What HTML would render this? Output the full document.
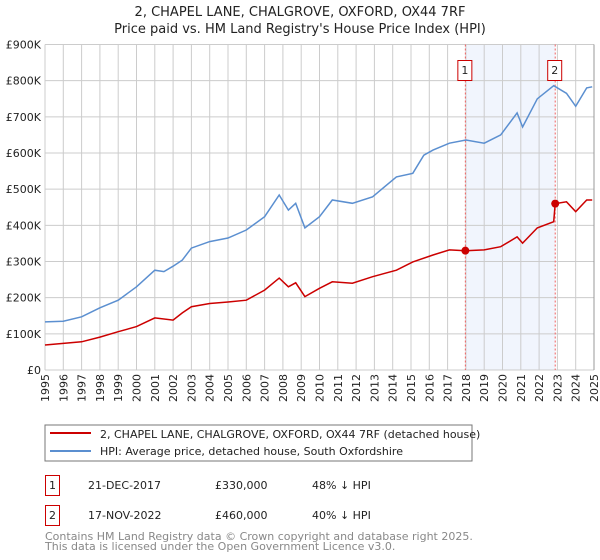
<!DOCTYPE html>
<html><head><meta charset="utf-8"><style>
body{margin:0;background:#fff;font-family:"DejaVu Sans","Liberation Sans",sans-serif;}
svg{display:block}
</style></head><body>
<svg id="chart" width="600" height="560" viewBox="0 0 600 560" xmlns="http://www.w3.org/2000/svg" font-family="DejaVu Sans, Liberation Sans, sans-serif">
<text x="300" y="16" text-anchor="middle" font-size="13" fill="#222">2, CHAPEL LANE, CHALGROVE, OXFORD, OX44 7RF</text>
<text x="300" y="33" text-anchor="middle" font-size="13" fill="#222">Price paid vs. HM Land Registry's House Price Index (HPI)</text>
<g id="grid"></g>
<g id="marks"></g>
<rect x="45" y="425" width="427" height="36" fill="#fff" stroke="#777"/>
<line x1="50" y1="433" x2="91" y2="433" stroke="#cc0000" stroke-width="2"/>
<text x="100" y="438" font-size="11" fill="#222">2, CHAPEL LANE, CHALGROVE, OXFORD, OX44 7RF (detached house)</text>
<line x1="50" y1="451" x2="91" y2="451" stroke="#5b8fd0" stroke-width="2"/>
<text x="100" y="455" font-size="11" fill="#222">HPI: Average price, detached house, South Oxfordshire</text>
<g font-size="11" fill="#222">
<rect x="45.5" y="475.5" width="14" height="20" fill="#fff" stroke="#cc0000"/>
<text x="52.5" y="489" text-anchor="middle">1</text>
<text x="88" y="489">21-DEC-2017</text>
<text x="215" y="489">£330,000</text>
<text x="312" y="489">48% ↓ HPI</text>
</g>
<g font-size="11" fill="#222">
<rect x="45.5" y="505.5" width="14" height="20" fill="#fff" stroke="#cc0000"/>
<text x="52.5" y="519" text-anchor="middle">2</text>
<text x="88" y="519">17-NOV-2022</text>
<text x="215" y="519">£460,000</text>
<text x="312" y="519">40% ↓ HPI</text>
</g>
<text x="45" y="540" font-size="11" fill="#888">Contains HM Land Registry data © Crown copyright and database right 2025.</text>
<text x="45" y="550" font-size="11" fill="#888">This data is licensed under the Open Government Licence v3.0.</text>
</svg>
<script>
const yTickValues=[0,100000,200000,300000,400000,500000,600000,700000,800000,900000];
const yTickLabels=["£0","£100K","£200K","£300K","£400K","£500K","£600K","£700K","£800K","£900K"];
const xYears=[1995,1996,1997,1998,1999,2000,2001,2002,2003,2004,2005,2006,2007,2008,2009,2010,2011,2012,2013,2014,2015,2016,2017,2018,2019,2020,2021,2022,2023,2024,2025];
const hpiDates=[1995,1996,1997,1998,1999,2000,2001,2001.5,2002,2002.5,2003,2004,2005,2006,2007,2007.8,2008.3,2008.7,2009.2,2010,2010.7,2011.8,2012.9,2014.2,2015.1,2015.7,2016.2,2017.1,2018,2019,2019.9,2020.8,2021.1,2021.9,2022.8,2023.5,2024,2024.6,2024.9];
const hpiValues=[133000,135000,147000,172000,193000,230000,276000,272000,287000,304000,337000,355000,365000,387000,424000,484000,442000,461000,393000,424000,470000,461000,479000,534000,544000,594000,608000,627000,636000,627000,650000,711000,672000,750000,786000,765000,729000,780000,783000];
const propDates=[1995,1997,1998,1999,2000,2001,2002,2002.5,2003,2004,2005,2006,2007,2007.8,2008.3,2008.7,2009.2,2010,2010.7,2011.8,2012.9,2014.2,2015.1,2016.2,2017.1,2017.97,2019,2019.9,2020.8,2021.1,2021.9,2022.8,2022.88,2023.5,2024,2024.6,2024.9];
const propValues=[69000,78000,91000,106000,120000,144000,138000,158000,175000,184000,188000,193000,221000,254000,230000,241000,203000,226000,244000,240000,258000,276000,299000,318000,332000,330000,332000,341000,368000,351000,393000,410000,460000,465000,438000,470000,470000];
const saleDates=[2017.97,2022.88];
const saleValues=[330000,460000];
const saleLabels=["1","2"];
const NS="http://www.w3.org/2000/svg";
const X0=45,X1=594,Y0=370,Y1=44.5;
function xs(t){return X0+(t-1995)/30*(X1-X0);}
function ys(v){return Y0-v/900000*(Y0-Y1);}
function mk(tag,a,p){const e=document.createElementNS(NS,tag);for(const k in a)e.setAttribute(k,a[k]);p.appendChild(e);return e;}
const grid=document.getElementById('grid'),marks=document.getElementById('marks');
// shaded region
const sh=mk('rect',{x:xs(saleDates[0]),y:Y1,width:xs(saleDates[1])-xs(saleDates[0]),height:Y0-Y1,fill:'#eef3fc',opacity:'0.8'},grid);


yTickValues.forEach((v,i)=>{
 const l=mk('line',{x1:X0,x2:X1,y1:ys(v),y2:ys(v),stroke:'#ccc','stroke-width':1},grid);
 
 
 const t=mk('text',{x:X0-4,y:ys(v)+4,'text-anchor':'end','font-size':11,fill:'#222'},grid);
 t.textContent=yTickLabels[i];
 
 
});
xYears.forEach(yr=>{
 const l=mk('line',{x1:xs(yr),x2:xs(yr),y1:Y1,y2:Y0,stroke:'#ccc','stroke-width':1},grid);
 
 
 const t=mk('text',{x:0,y:0,'text-anchor':'end','font-size':11,fill:'#222',transform:`translate(${xs(yr)+4},374) rotate(-90)`},grid);
 t.textContent=yr;
 
 
});
saleDates.forEach((d,i)=>{
 const l=mk('line',{x1:xs(d),x2:xs(d),y1:Y1,y2:Y0,stroke:'#f06060','stroke-width':1,'stroke-dasharray':'2,2'},marks);
 
 
});
function path(ds,vs){return ds.map((d,i)=>(i?'L':'M')+xs(d).toFixed(1)+','+ys(vs[i]).toFixed(1)).join(' ');}
const hp=mk('path',{d:path(hpiDates,hpiValues),fill:'none',stroke:'#5b8fd0','stroke-width':1.5},marks);


const pp=mk('path',{d:path(propDates,propValues),fill:'none',stroke:'#cc0000','stroke-width':1.5},marks);


saleDates.forEach((d,i)=>{
 const c=mk('circle',{cx:xs(d),cy:ys(saleValues[i]),r:4,fill:'#cc0000'},marks);
 
 
 const r=mk('rect',{x:xs(d)-7.5,y:60.5,width:14,height:20,fill:'#fff',stroke:'#cc0000'},marks);
 
 
 const t=mk('text',{x:xs(d)-0.5,y:74,'text-anchor':'middle','font-size':11,fill:'#222'},marks);
 t.textContent=saleLabels[i];
 
 
});
const ax=mk('line',{x1:X1,x2:X1,y1:Y1,y2:Y0,stroke:'#999','stroke-width':1},marks);


</script>
</body></html>
